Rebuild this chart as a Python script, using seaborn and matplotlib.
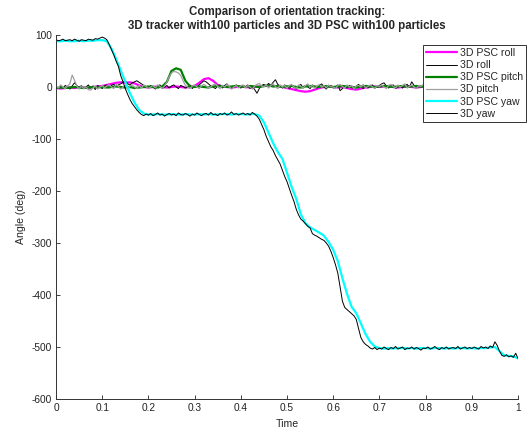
import numpy as np
import pandas as pd
import matplotlib
matplotlib.use("Agg")
import matplotlib.pyplot as plt
import seaborn as sns

# ---------------- data ----------------
t_fine = np.linspace(0, 1, 201)    # 3D tracker samples
t_psc = np.linspace(0, 1, 101)     # 3D PSC samples

psc_roll = [
    -2, -3, -2, -1, -2, 0, -1, -2, 0, 1,
    2, 4, 6, 8, 9, 8, 9, 7, 3, 0,
    -1, 0, 1, 0, -1, 0, 1, 0, -1, 0,
    2, 8, 15, 17, 12, 4, 1, 0, -1, 0,
    1, 0, -1, 0, 1, 2, 3, 2, 1, 0,
    -2, -4, -6, -8, -9, -8, -5, -2, 0, 1,
    0, -1, 0, -2, -4, -5, -3, -1, 0, 1,
    0, 1, 2, 0, -1, 0, 1, 0, -1, 0,
    1, 2, 3, 4, 2, 0, -1, 0, 1, 0,
    -1, 0, 1, 2, 3, 2, 1, 0, 1, 2,
    3]

roll_3d = [
    0, -3, 2, -2, 3, 0, -4, 2, 8, 3, -2, 3, -3, 0, 4, -2, 2, -5, 3, 0,
    -3, 2, 4, -2, 3, 5, 1, 4, 6, 9, 12, 6, 4, 8, 10, 12, 9, 6, 3, 1,
    -2, 3, 0, -4, 2, 4, -3, 0, 3, -2, 2, 4, 0, -3, 3, 1, -2, 0, 4, -3,
    2, 0, 4, 8, 12, 10, 6, 2, 0, -3, 2, 4, -2, 3, 6, 1, -3, 0, 4, 1,
    -2, 3, 0, 4, -3, 1, -5, -12, -3, 3, 5, 1, 7, 3, 9, 14, 5, 2, -2, 4,
    1, -3, 3, 0, -4, 2, 5, -2, 3, 0, -3, 4, 1, -2, 3, 6, 0, -4, 2, 3,
    -2, 0, 4, -7, -3, 2, -2, 3, 0, -4, 2, 5, 0, -3, 3, -2, 2, 4, -2, 0,
    3, 6, 8, 2, -2, 2, 4, -3, 0, 3, -2, 2, 5, 0, 10, 3, -3, 2, 0, 3,
    -2, 2, 4, 0, -3, 3, 1, -2, 4, 0, -3, 2, 3, -2, 0, 4, 1, -3, 0, 3,
    -2, 4, 1, 0, 6, 2, -2, 2, 4, 0, -3, 2, 3, 0, 2, 4, -2, 3, 0, 2,
    2]

psc_pitch = [
    -2, -1, -2, -1, 0, -1, -2, -1, 0, -1,
    0, -1, 0, 1, 0, -1, 0, -2, -1, 0,
    1, 0, -1, 1, 10, 31, 36, 33, 12, 1,
    0, 1, 0, -1, 1, 2, 1, 0, 1, 2,
    1, 0, 2, 1, 0, 2, 3, 1, 2, 0,
    1, 2, 0, -1, 1, 2, 1, 0, 2, 1,
    0, 1, 2, 1, 0, -1, 1, 2, 1, 0,
    1, 2, 1, 0, 1, 2, 0, 1, 2, 1,
    0, 1, 2, 1, 0, 1, 2, 1, 0, 1,
    2, 1, 0, 1, 2, 3, 1, 0, 2, 6,
    24]

pitch_3d = [
    2, -2, 4, 0, -3, 2, 6, 23, 13, 2, -4, 2, -3, 0, -5, -6, -2, 2, -4, 0,
    3, -2, 2, 4, 0, -3, 5, 1, -4, 0, 3, -5, 2, 4, 0, -3, 3, -2, 4, 1,
    -3, 0, 3, -2, 4, 1, -3, 2, 10, 20, 27, 30, 29, 27, 22, 12, 3, 0, -3, 2,
    4, 0, -3, 2, 5, 2, -2, 0, 4, 6, 1, -3, 3, 0, 5, 1, -4, 0, 3, -2,
    2, 4, -2, 3, 0, -4, 2, 5, 7, 2, 0, 4, -2, 3, 6, 1, -3, 4, 0, 3,
    -2, 3, 5, 0, -3, 4, 1, -2, 3, 6, 0, 4, -3, 2, 5, 0, 3, -2, 4, 1,
    0, -3, 3, 5, 1, -2, 4, 0, 3, -4, 2, 3, 0, 5, -2, 1, 4, 0, -3, 3,
    1, 4, 0, -3, 3, 5, 1, -2, 4, 0, 3, 6, -2, 1, 4, 0, -3, 3, 1, 5,
    0, 3, -2, 4, 1, -3, 3, 0, 5, 1, -2, 4, 0, 3, -3, 1, 4, 0, 3, -2,
    1, 4, 0, 3, -2, 5, 1, 0, 3, -3, 1, 4, 0, 3, 1, -2, 3, 5, 9, 18,
    25]

psc_yaw = [
    88, 88, 89, 88, 88, 89, 88, 89, 89, 90,
    90, 88, 74, 54, 32, 10, -12, -30, -44, -51,
    -53, -53, -52, -53, -53, -52, -53, -53, -52, -53,
    -53, -52, -53, -52, -53, -53, -52, -52, -53, -52,
    -52, -53, -52, -52, -55, -68, -88, -108, -125, -138,
    -165, -192, -215, -245, -262, -270, -275, -280, -286, -298,
    -313, -335, -368, -398, -423, -435, -455, -475, -490, -499,
    -502, -503, -502, -503, -502, -502, -503, -502, -503, -502,
    -502, -503, -502, -502, -503, -502, -503, -502, -502, -503,
    -502, -503, -502, -502, -501, -500, -508, -516, -517, -518,
    -522]

yaw_3d = [
    91, 89, 90, 92, 89, 90, 91, 89, 92, 90, 88, 91, 90, 89, 92, 91, 90, 93, 92, 94,
    96, 94, 91, 82, 72, 62, 50, 40, 22, 10, -3, -14, -24, -32, -38, -44, -49, -53, -55, -52,
    -54, -51, -55, -53, -50, -54, -52, -56, -53, -51, -54, -52, -55, -50, -53, -54, -51, -53, -56, -52,
    -54, -50, -53, -55, -52, -51, -54, -49, -53, -52, -55, -51, -53, -50, -54, -52, -48, -53, -51, -54,
    -52, -50, -53, -51, -54, -49, -52, -56, -62, -72, -82, -95, -105, -115, -122, -132, -140, -148, -160, -172,
    -182, -195, -208, -220, -235, -246, -254, -258, -263, -268, -271, -282, -285, -287, -290, -293, -295, -300, -306, -316,
    -328, -342, -358, -385, -412, -424, -428, -432, -436, -440, -447, -465, -482, -490, -495, -498, -502, -504, -501, -505,
    -502, -504, -500, -503, -505, -501, -503, -499, -504, -502, -500, -505, -502, -503, -500, -504, -501, -503, -506, -502,
    -503, -500, -504, -502, -499, -503, -505, -501, -503, -500, -504, -502, -501, -503, -499, -504, -502, -500, -503, -501,
    -503, -500, -502, -504, -499, -502, -500, -503, -498, -501, -490, -497, -508, -516, -518, -515, -519, -517, -520, -512,
    -522]

x_ticks = [0, 0.1, 0.2, 0.3, 0.4, 0.5, 0.6, 0.7, 0.8, 0.9, 1]
x_tick_labels = ["0", "0.1", "0.2", "0.3", "0.4", "0.5", "0.6", "0.7", "0.8", "0.9", "1"]
y_ticks = [-600, -500, -400, -300, -200, -100, 0, 100]

# ---------------- style ----------------
sns.set_style("ticks", {"xtick.direction": "in", "ytick.direction": "in"})
plt.rcParams["font.family"] = ["Liberation Sans", "DejaVu Sans"]
plt.rcParams["axes.unicode_minus"] = False

fig = plt.figure(figsize=(5.30, 4.34), dpi=100)
ax = fig.add_axes([56 / 530, 1 - 399 / 434, (518 - 56) / 530, (399 - 35) / 434])

series = [
    (t_psc, psc_roll, "3D PSC roll", "#ff00ff", 1.6),
    (t_fine, roll_3d, "3D roll", "#000000", 0.7),
    (t_psc, psc_pitch, "3D PSC pitch", "#008000", 1.6),
    (t_fine, pitch_3d, "3D pitch", "#a0a0a0", 0.9),
    (t_psc, psc_yaw, "3D PSC yaw", "#00ffff", 1.6),
    (t_fine, yaw_3d, "3D yaw", "#000000", 0.7),
]
for tt, vv, lab, col, lw in series:
    df = pd.DataFrame({"Time": tt, "Angle": vv})
    sns.lineplot(data=df, x="Time", y="Angle", ax=ax, color=col, lw=lw,
                 label=lab, sort=False, estimator=None)

ax.set_xlim(0, 1)
ax.set_ylim(-600, 100)
ax.set_xticks(x_ticks)
ax.set_xticklabels(x_tick_labels)
ax.set_yticks(y_ticks)
ax.tick_params(labelsize=7.3, length=3, width=0.6, colors="#222222", pad=3)
for s in ["top", "right"]:
    ax.spines[s].set_visible(False)
for s in ["left", "bottom"]:
    ax.spines[s].set_linewidth(0.7)
    ax.spines[s].set_color("#333333")

ax.set_xlabel("Time", fontsize=7.6, labelpad=4)
ax.set_ylabel("Angle (deg)", fontsize=7.6, labelpad=4)
ax.set_title("Comparison of orientation tracking:\n3D tracker with100 particles and 3D PSC with100 particles",
             fontsize=8.3, fontweight="bold", pad=4, linespacing=1.3)

leg = ax.legend(loc="upper right", bbox_to_anchor=(526 / 530, 1 - 45 / 434),
                bbox_transform=fig.transFigure, borderaxespad=0, fontsize=7.6,
                frameon=True, fancybox=False, framealpha=1, edgecolor="#333333",
                handlelength=2.9, handletextpad=0.3, labelspacing=0.2,
                borderpad=0.3)
leg.get_frame().set_linewidth(0.7)

fig.savefig("out.png", dpi=100)
